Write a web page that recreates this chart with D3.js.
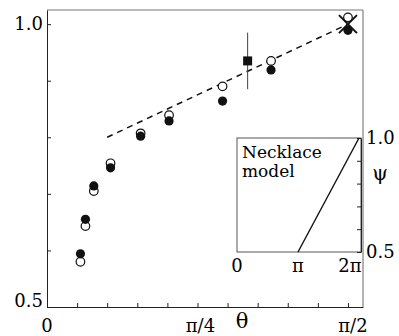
<!DOCTYPE html>
<html>
<head>
<meta charset="utf-8">
<script src="https://cdn.jsdelivr.net/npm/d3@7"></script>
<style>
  body { margin: 0; background: #fff; }
</style>
</head>
<body>
<figure id="chart" style="margin:0"></figure>
<script>
// angles in degrees
const thetaDeg = [10, 11.5, 14, 19, 28, 36.5, 52.5, 67, 90];
const psiFilled = [0.594, 0.655, 0.714, 0.746, 0.802, 0.829, 0.864, 0.919, 0.989];
const psiOpen   = [0.580, 0.643, 0.705, 0.754, 0.807, 0.839, 0.890, 0.935, 1.012];

// single square point with its error bar
const squareTheta = [60];
const squarePsi = [0.935];
const squareErr = [0.05];

// cross marker at theta = pi/2
const crossTheta = [90];
const crossPsi = [1.0];

// dashed guide line
const lineTheta = [18, 90];
const linePsi = [0.80, 1.0];

// inset: necklace model psi vs phase
const insetPhase = [0, Math.PI, 2 * Math.PI];
const insetPsi = [0.5, 0.5, 1.0];

const xTickLabels = ["0", "π/4", "π/2"];
const yTickLabels = ["0.5", "1.0"];
const insetXLabels = ["0", "π", "2π"];

const width = 399, height = 336;
const serif = "'DejaVu Serif', 'Liberation Serif', serif";
const rad = d => d * Math.PI / 180;

const svg = d3.select("#chart").append("svg")
  .attr("width", width)
  .attr("height", height)
  .style("font-family", serif);

// main scales, domain runs a bit past pi/2 like the original frame
const x = d3.scaleLinear().domain([0, 0.525 * Math.PI]).range([47, 363]);
const y = d3.scaleLinear().domain([0.5, 1.025]).range([307, 10]);

// frame: top + right are faint in the scan
svg.append("line").attr("x1", x.range()[0]).attr("x2", x.range()[1])
  .attr("y1", y.range()[1]).attr("y2", y.range()[1])
  .attr("stroke", "#777").attr("stroke-width", 1);
svg.append("line").attr("x1", x.range()[1]).attr("x2", x.range()[1])
  .attr("y1", y.range()[1]).attr("y2", y.range()[0])
  .attr("stroke", "#666").attr("stroke-width", 1);

// bottom axis, ticks every pi/20 pointing inward
const xAxis = d3.axisBottom(x)
  .tickValues(d3.range(0, 11).map(i => i * Math.PI / 20))
  .tickSizeInner(-4).tickSizeOuter(0).tickFormat("");
svg.append("g").attr("transform", "translate(0," + y(0.5) + ")").call(xAxis)
  .call(g => g.selectAll("line,path").attr("stroke", "#222").attr("stroke-width", 1));

// left axis
const yAxis = d3.axisLeft(y)
  .tickValues([0.5, 0.6, 0.7, 0.8, 0.9, 1.0])
  .tickSizeInner(-4).tickSizeOuter(0).tickFormat("");
svg.append("g").attr("transform", "translate(" + x(0) + ",0)").call(yAxis)
  .call(g => g.selectAll("line,path").attr("stroke", "#222").attr("stroke-width", 1));

// tick labels
const xLabelPos = [0, Math.PI / 4, Math.PI / 2];
const xLabelShift = [0, 3, 5];
svg.selectAll(".xl").data(xTickLabels).enter().append("text")
  .attr("x", (d, i) => x(xLabelPos[i]) + xLabelShift[i])
  .attr("y", 332)
  .attr("text-anchor", "middle")
  .style("font-size", "18px")
  .text(d => d);

const yLabelBase = [307, 30];
svg.selectAll(".yl").data(yTickLabels).enter().append("text")
  .attr("x", x(0) - 4)
  .attr("y", (d, i) => yLabelBase[i])
  .attr("text-anchor", "end")
  .style("font-size", "18px")
  .text(d => d);

svg.append("text").attr("x", 242).attr("y", 328)
  .attr("text-anchor", "middle").style("font-size", "21px").text("θ");

// dashed line
const line = d3.line().x(d => x(rad(d[0]))).y(d => y(d[1]));
svg.append("path")
  .datum(d3.zip(lineTheta, linePsi))
  .attr("d", line)
  .attr("fill", "none")
  .attr("stroke", "#111")
  .attr("stroke-width", 1.5)
  .attr("stroke-dasharray", "6,5");

// error bar + square
svg.selectAll(".err").data(squareTheta).enter().append("line")
  .attr("x1", d => x(rad(d))).attr("x2", d => x(rad(d)))
  .attr("y1", (d, i) => y(squarePsi[i] + squareErr[i]))
  .attr("y2", (d, i) => y(squarePsi[i] - squareErr[i]))
  .attr("stroke", "#444").attr("stroke-width", 1);
svg.selectAll(".sq").data(squareTheta).enter().append("rect")
  .attr("x", d => x(rad(d)) - 4.5)
  .attr("y", (d, i) => y(squarePsi[i]) - 4.5)
  .attr("width", 9).attr("height", 9)
  .attr("fill", "#111");

// open circles
svg.selectAll(".open").data(thetaDeg).enter().append("circle")
  .attr("cx", d => x(rad(d)))
  .attr("cy", (d, i) => y(psiOpen[i]))
  .attr("r", 4.3)
  .attr("fill", "#fff")
  .attr("stroke", "#111")
  .attr("stroke-width", 1.2);

// filled circles
svg.selectAll(".filled").data(thetaDeg).enter().append("circle")
  .attr("cx", d => x(rad(d)))
  .attr("cy", (d, i) => y(psiFilled[i]))
  .attr("r", 4.6)
  .attr("fill", "#111");

// cross marker
svg.selectAll(".cross").data(crossTheta).enter().append("path")
  .attr("d", (d, i) => {
    const cx = x(rad(d)), cy = y(crossPsi[i]), s = 9;
    return "M" + (cx - s) + "," + (cy - s) + "L" + (cx + s) + "," + (cy + s) +
           "M" + (cx - s) + "," + (cy + s) + "L" + (cx + s) + "," + (cy - s);
  })
  .attr("stroke", "#111").attr("stroke-width", 2).attr("fill", "none");

// ---- inset ----
const ix = d3.scaleLinear().domain([0, 2 * Math.PI]).range([237, 359]);
const iy = d3.scaleLinear().domain([0.5, 1.0]).range([252, 138]);

const inset = svg.append("g");
inset.append("rect")
  .attr("x", ix.range()[0]).attr("y", iy.range()[1])
  .attr("width", 361 - ix.range()[0]).attr("height", iy.range()[0] - iy.range()[1])
  .attr("fill", "#fff").attr("stroke", "#555").attr("stroke-width", 1);

// right axis of inset, ticks pointing left
const iyAxis = d3.axisRight(iy)
  .tickValues([0.5, 0.6, 0.7, 0.8, 0.9, 1.0])
  .tickSizeInner(-4).tickSizeOuter(0).tickFormat("");
inset.append("g").attr("transform", "translate(361,0)").call(iyAxis)
  .call(g => g.selectAll("line,path").attr("stroke", "#222").attr("stroke-width", 1));

inset.append("path")
  .datum(d3.zip(insetPhase, insetPsi).filter(d => d[0] >= Math.PI))
  .attr("d", d3.line().x(d => ix(d[0])).y(d => iy(d[1])))
  .attr("fill", "none").attr("stroke", "#111").attr("stroke-width", 1.4);

inset.selectAll(".ixl").data(insetXLabels).enter().append("text")
  .attr("x", (d, i) => ix(insetPhase[i]) + (i == 2 ? -9 : 0))
  .attr("y", 272)
  .attr("text-anchor", "middle")
  .style("font-size", "18px")
  .text(d => d);

inset.append("text").attr("x", 366).attr("y", 144).style("font-size", "18px").text("1.0");
inset.append("text").attr("x", 366).attr("y", 258).style("font-size", "18px").text("0.5");
inset.append("text").attr("x", 380).attr("y", 180)
  .attr("text-anchor", "middle").style("font-size", "20px").text("ψ");

inset.append("text").attr("x", 242).attr("y", 158).style("font-size", "17px").text("Necklace");
inset.append("text").attr("x", 242).attr("y", 177).style("font-size", "17px").text("model");
</script>
</body>
</html>
